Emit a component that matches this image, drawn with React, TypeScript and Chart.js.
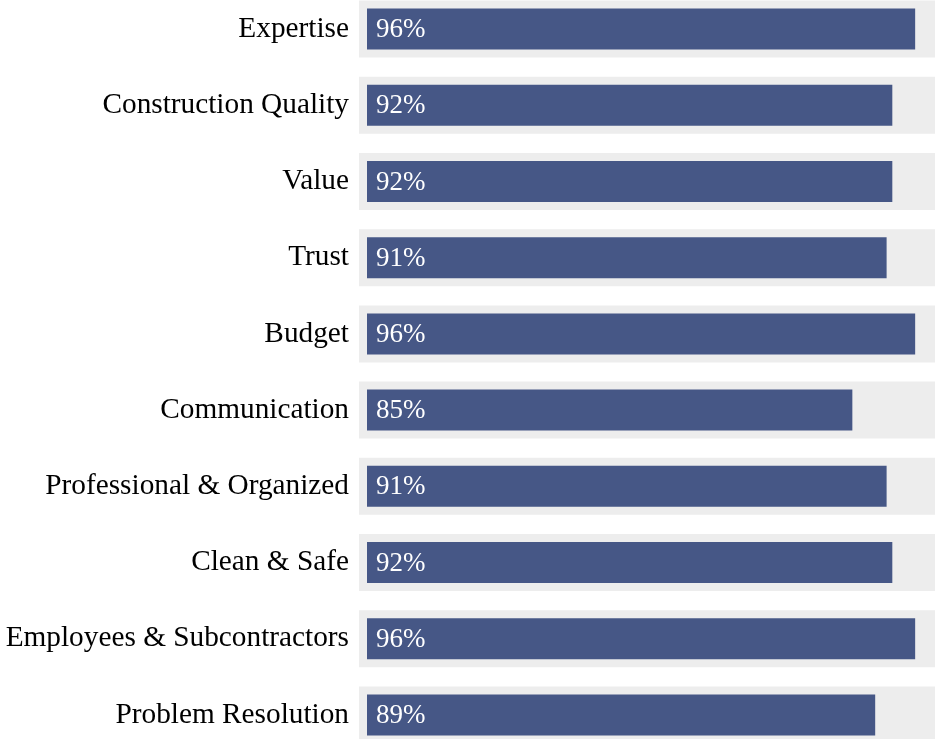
import React, { useEffect, useRef } from "react";
import { Chart, registerables } from "chart.js";

Chart.register(...registerables);

const categories = [
  "Expertise",
  "Construction Quality",
  "Value",
  "Trust",
  "Budget",
  "Communication",
  "Professional & Organized",
  "Clean & Safe",
  "Employees & Subcontractors",
  "Problem Resolution",
];
const scores = [96, 92, 92, 91, 96, 85, 91, 92, 96, 89];
const track = [100, 100, 100, 100, 100, 100, 100, 100, 100, 100];

const FONT = '"Liberation Serif", "Times New Roman", Times, serif';

const valueLabels = {
  id: "valueLabels",
  afterDatasetsDraw(chart: any) {
    const meta = chart.getDatasetMeta(0);
    const ctx = chart.ctx;
    ctx.save();
    ctx.fillStyle = "#ffffff";
    ctx.font = `27px ${FONT}`;
    ctx.textAlign = "left";
    ctx.textBaseline = "middle";
    meta.data.forEach((bar: any, i: number) => {
      ctx.fillText(`${scores[i]}%`, bar.base + 9, bar.y + 1);
    });
    ctx.restore();
  },
};

export default function App() {
  const ref = useRef<HTMLCanvasElement | null>(null);
  useEffect(() => {
    if (!ref.current) return;
    const chart = new Chart(ref.current, {
      type: "bar",
      data: {
        labels: categories,
        datasets: [
          {
            data: scores,
            backgroundColor: "#465786",
            barThickness: 41,
            grouped: false,
            inflateAmount: 0,
            order: 0,
            clip: false as any,
          },
          {
            data: track,
            backgroundColor: "#ededed",
            barThickness: 41,
            grouped: false,
            inflateAmount: 8,
            order: 1,
            clip: false as any,
          },
        ],
      },
      options: {
        indexAxis: "y",
        animation: false,
        responsive: false,
        maintainAspectRatio: false,
        layout: { padding: { left: 0, right: 8, top: 0, bottom: 0 } },
        plugins: {
          legend: { display: false },
          tooltip: { enabled: false },
        },
        scales: {
          x: {
            display: false,
            min: 0,
            max: 100,
          },
          y: {
            grid: { display: false, drawTicks: false },
            border: { display: false },
            ticks: {
              padding: 18,
              color: "#000000",
              font: { family: FONT, size: 29.3 },
            },
            afterFit: (scale: any) => {
              scale.width = 367;
              scale.paddingTop = 0;
              scale.paddingBottom = 0;
            },
          },
        },
      },
      plugins: [valueLabels],
    });
    return () => chart.destroy();
  }, []);

  return (
    <div
      style={{
        position: "fixed",
        left: 0,
        top: 0,
        width: 935,
        height: 739,
        overflow: "hidden",
        background: "#ffffff",
      }}
    >
      <div style={{ position: "absolute", left: 0, top: -9.5, width: 946, height: 762 }}>
        <canvas ref={ref} width={946} height={762} style={{ width: 946, height: 762 }} />
      </div>
    </div>
  );
}
